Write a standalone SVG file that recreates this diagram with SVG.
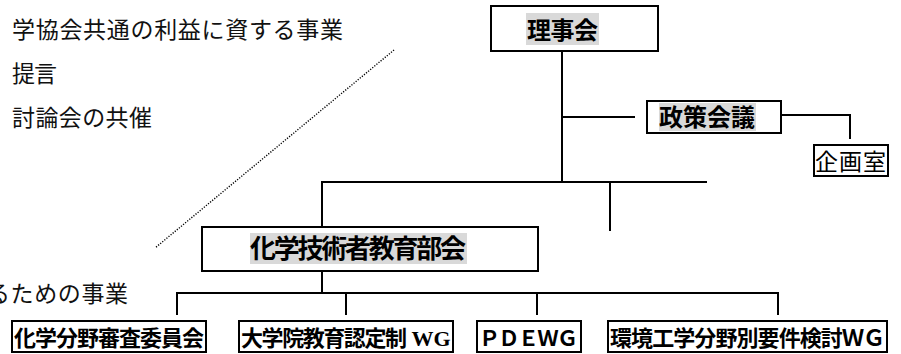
<svg xmlns="http://www.w3.org/2000/svg" width="901" height="354" viewBox="0 0 901 354">
<style>
  .box { fill: #ffffff; stroke: #000000; stroke-width: 2; }
  .hl { fill: #d9d9d9; stroke: none; }
  .ln { fill: none; stroke: #000000; stroke-width: 2; }
  .dot { fill: none; stroke: #000000; stroke-width: 1.4; stroke-dasharray: 1.2 1.5; }
  .t { font-family: "Noto Sans CJK JP", "Noto Sans", sans-serif; fill: #000000; }
  .b { font-weight: bold; }
  .note { font-family: "Noto Sans CJK JP", "Noto Sans", sans-serif; font-size: 23px; fill: #111111; }
</style>
<rect width="901" height="354" fill="#ffffff"/>

<g id="notes">
  <text class="note" x="12" y="38" textLength="331" lengthAdjust="spacing">学協会共通の利益に資する事業</text>
  <text class="note" x="12" y="82" textLength="45" lengthAdjust="spacing">提言</text>
  <text class="note" x="12" y="126" textLength="140" lengthAdjust="spacing">討論会の共催</text>
  <text class="note" x="-13" y="302" textLength="141" lengthAdjust="spacing">るための事業</text>
  <line class="dot" x1="394" y1="50" x2="155" y2="248"/>
</g>

<g id="connectors">
  <polyline class="ln" points="562,51 562,182"/>
  <polyline class="ln" points="562,117 635,117"/>
  <polyline class="ln" points="778,115 850,115 850,139"/>
  <polyline class="ln" points="322,227 322,182 707,182"/>
  <polyline class="ln" points="610,182 610,231"/>
  <polyline class="ln" points="322,271 322,293"/>
  <polyline class="ln" points="177,315 177,293 778,293 778,315"/>
  <polyline class="ln" points="346,293 346,315"/>
  <polyline class="ln" points="537,293 537,315"/>
</g>

<g id="node-rijikai">
  <rect class="box" x="491" y="6" width="167" height="45"/>
  <rect class="hl" x="526" y="13" width="73" height="32"/>
  <text class="t b" x="527" y="39" font-size="24" textLength="71" lengthAdjust="spacing">理事会</text>
</g>

<g id="node-seisaku">
  <rect class="box" x="647" y="101" width="134" height="32"/>
  <rect class="hl" x="659" y="103" width="97" height="28"/>
  <text class="t b" x="659" y="126" font-size="24" textLength="96" lengthAdjust="spacing">政策会議</text>
</g>

<g id="node-kikaku">
  <rect class="box" x="814" y="145" width="74" height="31"/>
  <text class="t" x="815" y="170" font-size="23" textLength="71" lengthAdjust="spacing">企画室</text>
</g>

<g id="node-bukai">
  <rect class="box" x="202" y="227" width="336" height="44"/>
  <rect class="hl" x="250" y="233" width="217" height="31"/>
  <text class="t b" x="250" y="258" font-size="26" textLength="216" lengthAdjust="spacing">化学技術者教育部会</text>
</g>

<g id="node-shinsa">
  <rect class="box" x="12" y="321" width="194" height="31"/>
  <text class="t b" x="14" y="346" font-size="22" textLength="190" lengthAdjust="spacing">化学分野審査委員会</text>
</g>

<g id="node-daigakuin">
  <rect class="box" x="239" y="321" width="214" height="31"/>
  <text class="t b" x="241" y="346" font-size="22"><tspan textLength="166" lengthAdjust="spacing">大学院教育認定制</tspan><tspan font-family="'Liberation Serif', serif" dx="6">WG</tspan></text>
</g>

<g id="node-pdewg">
  <rect class="box" x="477" y="321" width="104" height="31"/>
  <text class="t b" x="479" y="346" font-size="21" textLength="99" lengthAdjust="spacing">ＰＤＥＷＧ</text>
</g>

<g id="node-kankyo">
  <rect class="box" x="608" y="321" width="279" height="31"/>
  <text class="t b" x="610" y="346" font-size="22" textLength="275" lengthAdjust="spacing">環境工学分野別要件検討ＷＧ</text>
</g>
</svg>
